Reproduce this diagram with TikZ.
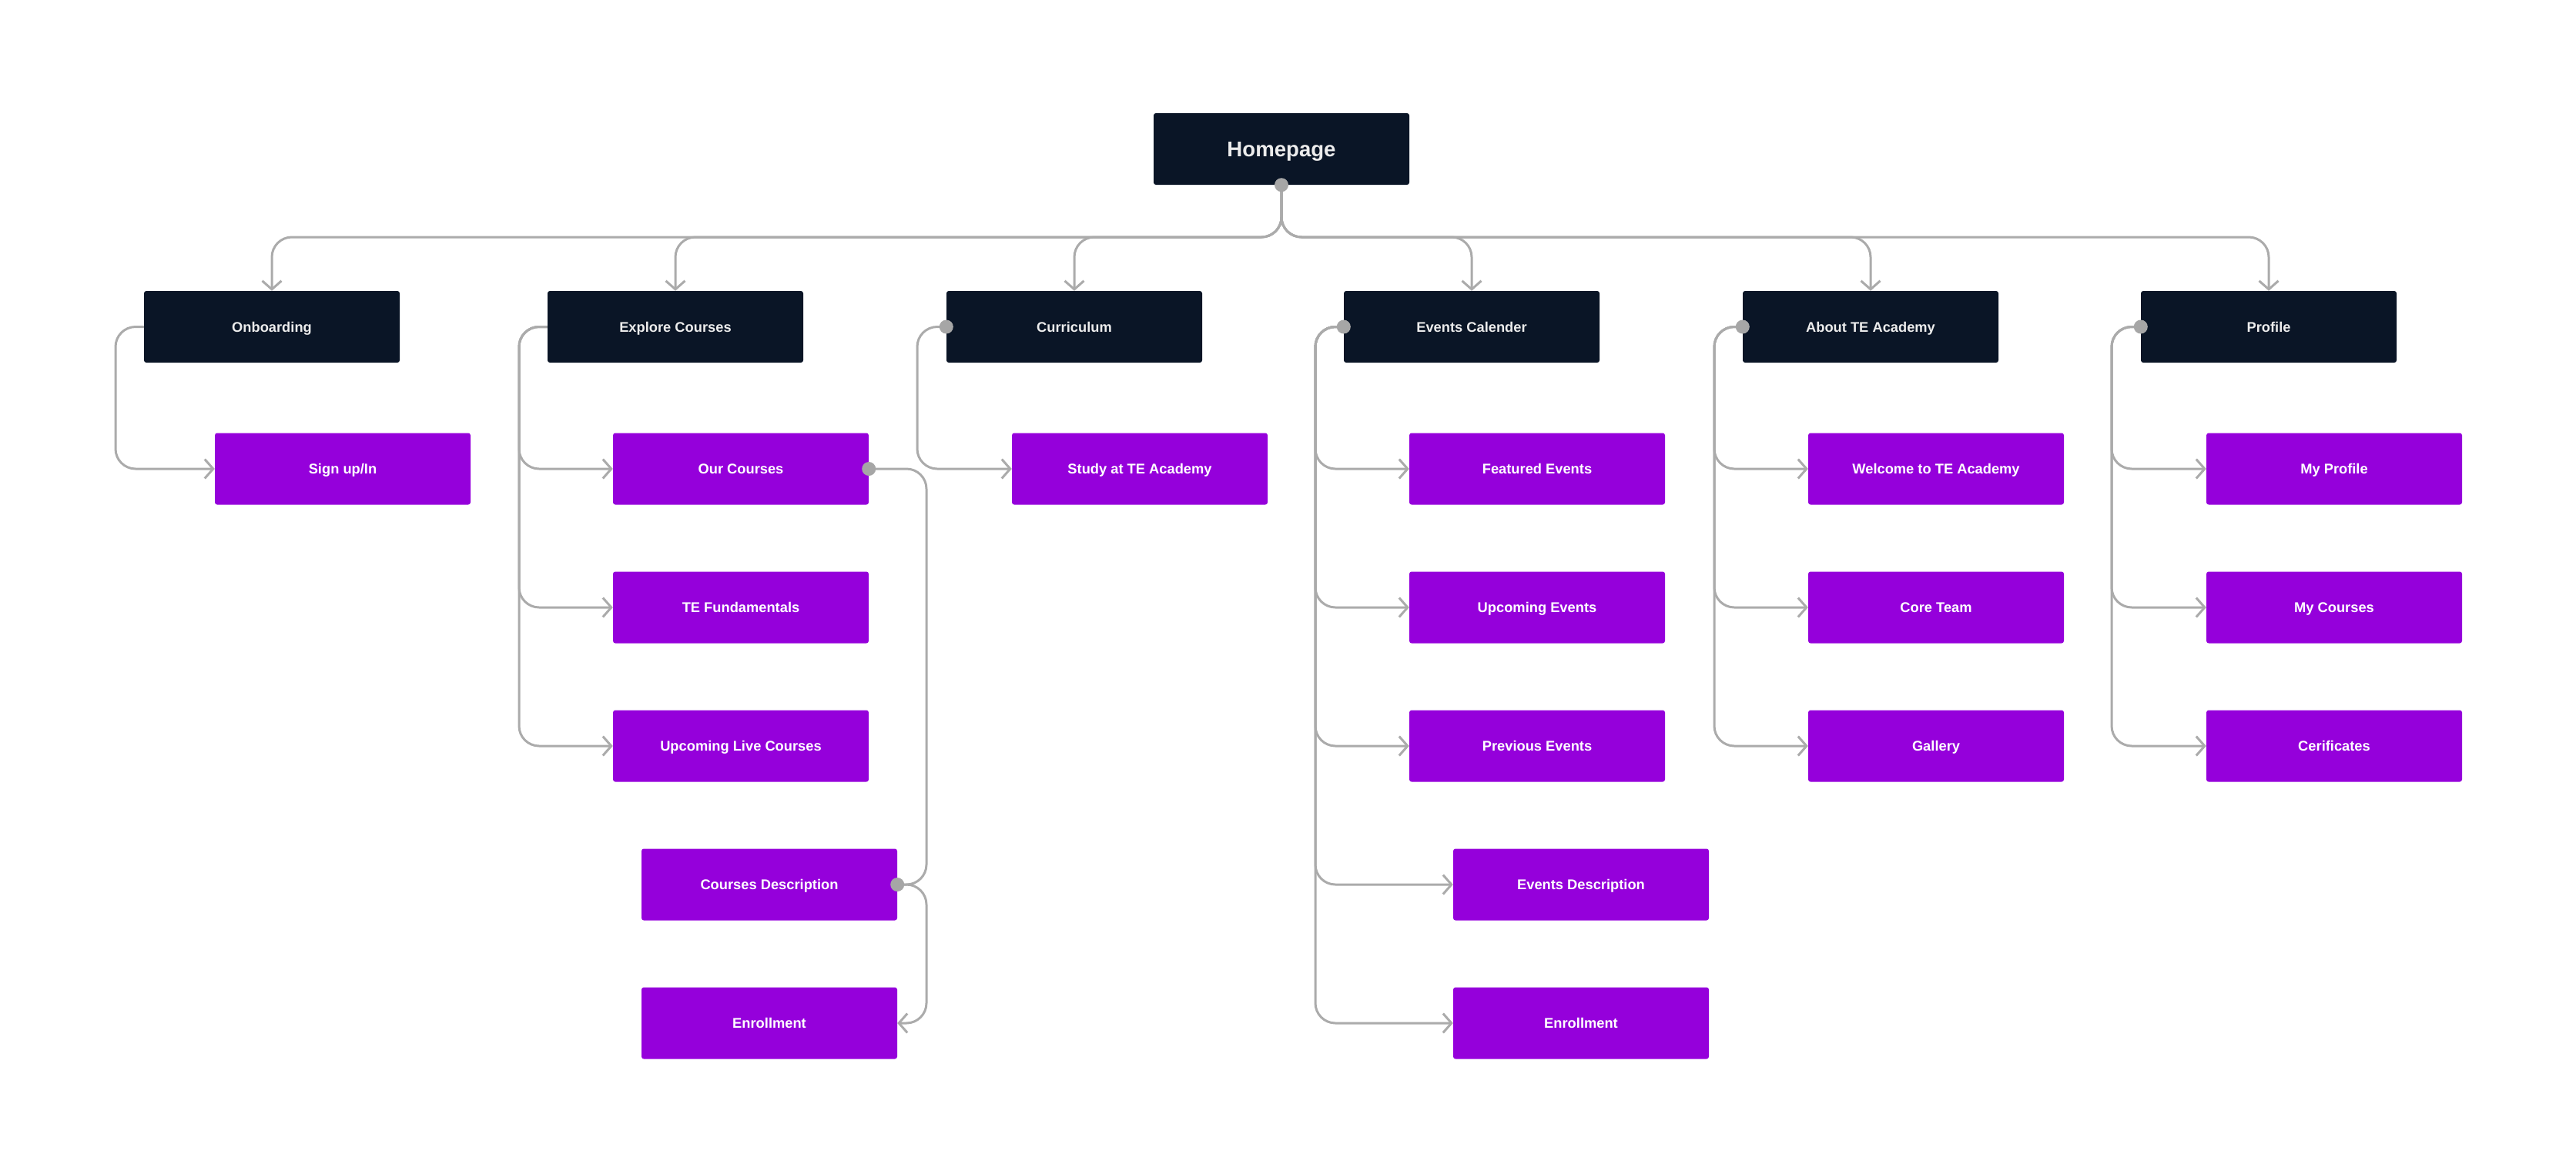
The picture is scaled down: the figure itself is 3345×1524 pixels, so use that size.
\documentclass[tikz,border=0pt]{standalone}
\usepackage{fontspec}
\setmainfont{Liberation Sans}
\usetikzlibrary{arrows.meta}
\definecolor{navy}{HTML}{0A1526}
\definecolor{purp}{HTML}{9500DB}
\definecolor{linec}{HTML}{ABABAB}
\definecolor{dotc}{HTML}{A6A6A6}
\begin{document}
\begin{tikzpicture}[x=1pt,y=-1pt,
  box/.style={minimum width=332pt,minimum height=93pt,inner sep=0pt,rounded corners=3pt,text height=13.1pt,text depth=0pt,font=\fontsize{18.3}{22}\selectfont\bfseries},
  dark/.style={box,fill=navy,text={rgb,255:red,236;green,236;blue,236}},
  leaf/.style={box,fill=purp,text=white},
  conn/.style={draw=linec,line width=3pt,rounded corners=26pt},
  arr/.style={conn,-{Straight Barb[length=11pt,width=25pt]}},
  dotm/.style={fill=dotc}]
\useasboundingbox (0,0) rectangle (3345,1524);

% top
\node[dark,text height=19.8pt,font=\fontsize{27.6}{32}\selectfont\bfseries] (hp) at (1664,193.5) {Homepage};

% level 1
\node[dark] (onb) at (353,424.5) {Onboarding};
\node[dark] (exp) at (877,424.5) {Explore Courses};
\node[dark] (cur) at (1395,424.5) {Curriculum};
\node[dark] (evc) at (1911,424.5) {Events Calender};
\node[dark] (abt) at (2429,424.5) {About TE Academy};
\node[dark] (prf) at (2946,424.5) {Profile};

% level 2
\node[leaf] (sgn) at (445,609) {Sign up/In};

\node[leaf] (ocr) at (962,609) {Our Courses};
\node[leaf] (tef) at (962,789) {TE Fundamentals};
\node[leaf] (ulc) at (962,969) {Upcoming Live Courses};
\node[leaf] (cds) at (999,1149) {Courses Description};
\node[leaf] (enc) at (999,1329) {Enrollment};

\node[leaf] (sta) at (1480,609) {Study at TE Academy};

\node[leaf] (fev) at (1996,609) {Featured Events};
\node[leaf] (uev) at (1996,789) {Upcoming Events};
\node[leaf] (pev) at (1996,969) {Previous Events};
\node[leaf] (eds) at (2053,1149) {Events Description};
\node[leaf] (ene) at (2053,1329) {Enrollment};

\node[leaf] (wel) at (2514,609) {Welcome to TE Academy};
\node[leaf] (cor) at (2514,789) {Core Team};
\node[leaf] (gal) at (2514,969) {Gallery};

\node[leaf] (mpr) at (3031,609) {My Profile};
\node[leaf] (mco) at (3031,789) {My Courses};
\node[leaf] (cer) at (3031,969) {Cerificates};

% bus coordinates
\coordinate (bus) at (0,308);
\foreach \n in {onb,exp,cur,evc,abt,prf}{
  \draw[arr] (hp.south) |- (\n.north |- bus) -- (\n.north);
}

% bracket coordinates
\coordinate (bxonb) at (150,0);
\coordinate (bxexp) at (674,0);
\coordinate (bxcur) at (1191,0);
\coordinate (bxevc) at (1708,0);
\coordinate (bxabt) at (2226,0);
\coordinate (bxprf) at (2742,0);

\draw[arr] (onb.west) -| (bxonb |- sgn.west) -- (sgn.west);
\foreach \c in {ocr,tef,ulc}{\draw[arr] (exp.west) -| (bxexp |- \c.west) -- (\c.west);}
\draw[arr] (cur.west) -| (bxcur |- sta.west) -- (sta.west);
\foreach \c in {fev,uev,pev,eds,ene}{\draw[arr] (evc.west) -| (bxevc |- \c.west) -- (\c.west);}
\foreach \c in {wel,cor,gal}{\draw[arr] (abt.west) -| (bxabt |- \c.west) -- (\c.west);}
\foreach \c in {mpr,mco,cer}{\draw[arr] (prf.west) -| (bxprf |- \c.west) -- (\c.west);}

% courses chain
\coordinate (cx) at (1203,0);
\draw[conn] (ocr.east) -| (cx |- cds.east) -- (cds.east);
\draw[arr] (cds.east) -| (cx |- enc.east) -- (enc.east);

% dots
\foreach \p in {hp.south,cur.west,evc.west,abt.west,prf.west,ocr.east,cds.east}{
  \fill[dotm] (\p) circle (9pt);
}
\end{tikzpicture}
\end{document}
